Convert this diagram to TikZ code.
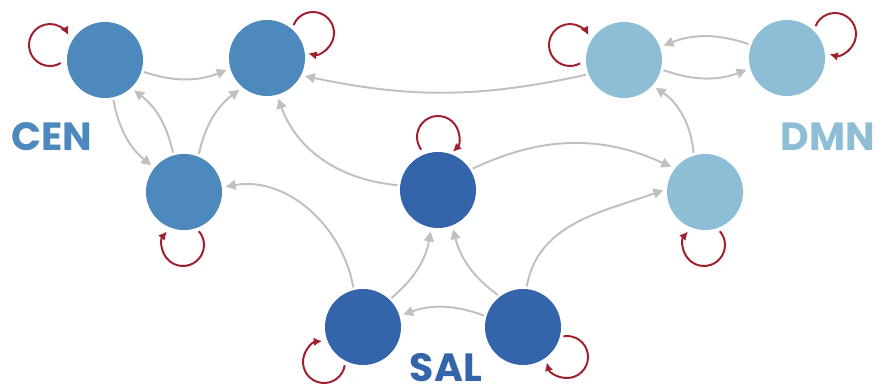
\documentclass[tikz,border=0pt]{standalone}
\usepackage{fontspec}
\usepackage{xcolor}
\usepackage{tikz}
\usetikzlibrary{arrows.meta}
\newfontfamily\redfont{Poppins}
\definecolor{AzulCEN}{RGB}{77,137,189}
\definecolor{AzulSAL}{RGB}{52,101,170}
\definecolor{AzulDMN}{RGB}{141,190,214}
\definecolor{GrisEnlace}{RGB}{192,192,192}
\definecolor{RojoBucle}{RGB}{160,30,45}

\begin{document}
\begin{tikzpicture}[>=Latex,x=0.025cm,y=0.025cm,
  nodo/.style={circle,minimum size=1.9cm,inner sep=0pt,outer sep=0pt},
  enlace/.style={draw=GrisEnlace,line width=1.4pt,-{Triangle[length=7pt,width=7pt]},shorten >=3pt,shorten <=2pt},
  bucle/.style={draw=RojoBucle,line width=1.4pt,-{Latex[length=6pt,width=6pt]}},
  etiqueta/.style={inner sep=0pt,font=\redfont\bfseries\fontsize{28}{30}\selectfont}]
  \useasboundingbox (0,0) rectangle (882,-392);
  \node[nodo,fill=AzulCEN] (cen1) at (105,-60) {};
  \node[nodo,fill=AzulCEN] (cen2) at (267,-58) {};
  \node[nodo,fill=AzulCEN] (cen3) at (184,-192) {};
  \node[nodo,fill=AzulSAL] (salt) at (438,-190) {};
  \node[nodo,fill=AzulSAL] (salbl) at (363,-327) {};
  \node[nodo,fill=AzulSAL] (salbr) at (523,-327) {};
  \node[nodo,fill=AzulDMN] (dmn1) at (624,-60) {};
  \node[nodo,fill=AzulDMN] (dmn2) at (787,-58) {};
  \node[nodo,fill=AzulDMN] (dmn3) at (705,-192) {};
  \node[etiqueta,text=AzulCEN] (lcen) at (52,-137) {CEN};
  \node[etiqueta,text=AzulDMN] (ldmn) at (828,-137) {DMN};
  \node[etiqueta,text=AzulSAL] (lsal) at (446,-368) {SAL};
  \draw[enlace] (cen1.-17) to[bend right=20] (cen2.196);
  \draw[enlace] (cen1.-78) to[bend right=20] (cen3.141);
  \draw[enlace] (cen3.106) to[bend right=20] (cen1.-47);
  \draw[enlace] (cen3.68) to[bend left=20] (cen2.230);
  \draw[enlace] (salt.173) to[out=175,in=-70] (cen2.-75);
  \draw[enlace] (dmn1.202) to[bend left=12] (cen2.-27);
  \draw[enlace] (salbl.104) to[out=100,in=10] (cen3.7);
  \draw[enlace] (salbl.46) to[bend right=20] (salt.-100);
  \draw[enlace] (salbr.127) to[bend left=20] (salt.-68);
  \draw[enlace] (salbr.164) to[bend right=20] (salbl.17);
  \draw[enlace] (salbr.85) to[out=80,in=200] (dmn3.175);
  \draw[enlace] (salt.32) to[bend left=25] (dmn3.142);
  \draw[enlace] (dmn3.107) to[bend right=25] (dmn1.-42);
  \draw[enlace] (dmn2.160) to[bend right=20] (dmn1.20);
  \draw[enlace] (dmn1.-14) to[bend right=20] (dmn2.196);
  \foreach \n/\dx/\dy/\a/\b in {cen1/-55/15/-59/-332, cen2/46/25/158/-103,
      cen3/-1/-53/41/-220, salt/0/53/217/-45, salbl/-39/-35/-9/-265,
      salbr/44/-30/100/-165, dmn1/-54/15/-61/-332, dmn2/48/24/158/-105,
      dmn3/-1/-53/41/-220}
    \draw[bucle] ([shift={(\dx,\dy)}]\n.center) ++(\a:21) arc[start angle=\a,end angle=\b,radius=21];
\end{tikzpicture}
\end{document}
